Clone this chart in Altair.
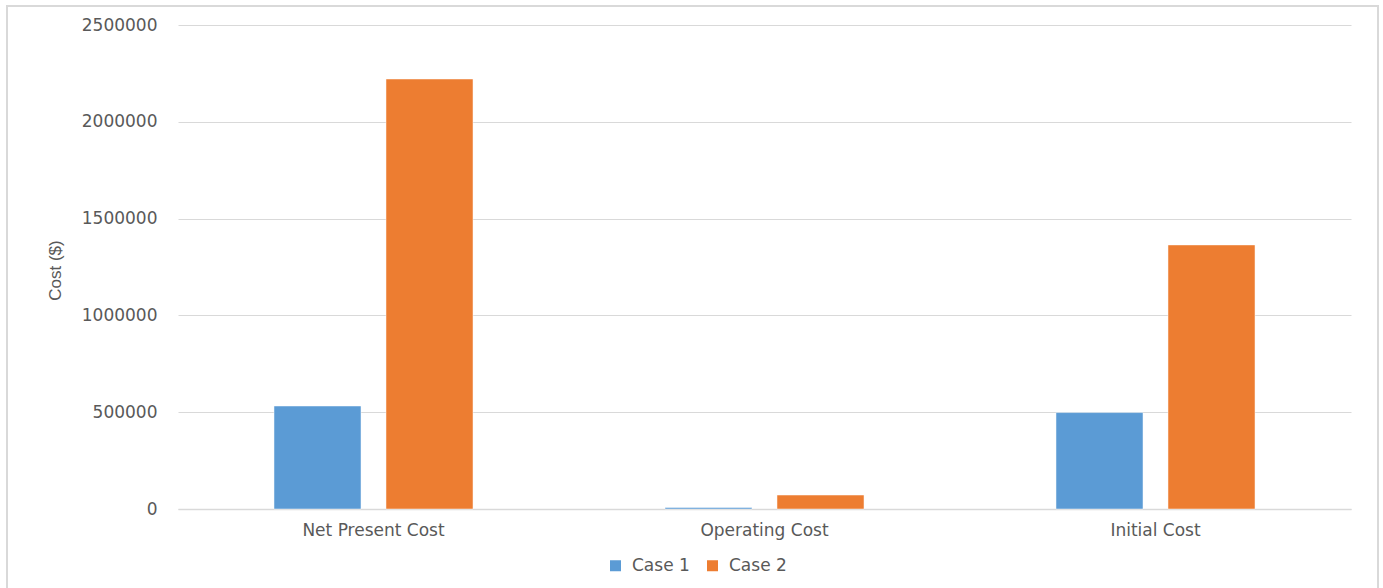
import altair as alt
import pandas as pd

categories = ["Net Present Cost", "Operating Cost", "Initial Cost"]
case1 = [532000, 8000, 498000]
case2 = [2221000, 72000, 1364000]
series = ["Case 1", "Case 2"]
y_ticks = [0, 500000, 1000000, 1500000, 2000000, 2500000]

rows = []
for c, a, b in zip(categories, case1, case2):
    rows.append({"category": c, "series": "Case 1", "cost": a})
    rows.append({"category": c, "series": "Case 2", "cost": b})
df = pd.DataFrame(rows)

FONT = "DejaVu Sans"
TXT = "#595959"

bars = alt.Chart(df).mark_bar(stroke="#ffffff", strokeWidth=0.8, strokeOpacity=0.6).encode(
    x=alt.X("category:N", sort=categories,
            scale=alt.Scale(paddingInner=0, paddingOuter=0),
            axis=alt.Axis(title=None, labelAngle=0, ticks=False, domain=True,
                          grid=False,
                          domainColor="#d9d9d9", domainWidth=1.5,
                          labelFont=FONT, labelFontSize=17, labelColor=TXT,
                          labelPadding=13)),
    xOffset=alt.XOffset("series:N", sort=series,
                        scale=alt.Scale(paddingInner=0.223, paddingOuter=0.857)),
    y=alt.Y("cost:Q",
            scale=alt.Scale(domain=[0, 2500000], nice=False),
            axis=alt.Axis(title="Cost ($)", values=y_ticks, format="d",
                          ticks=False, domain=False, grid=True,
                          gridColor="#d9d9d9", gridWidth=1,
                          labelFont=FONT, labelFontSize=17, labelColor=TXT,
                          labelPadding=21,
                          titleFont="Liberation Sans", titleFontSize=17,
                          titleFontWeight="normal", titleColor=TXT,
                          titleAngle=-90, titleBaseline="middle",
                          titleX=-123, titleY=245)),
    color=alt.Color("series:N", sort=series,
                    scale=alt.Scale(domain=series, range=["#5B9BD5", "#ED7D31"]),
                    legend=alt.Legend(title=None, orient="none", direction="horizontal",
                                      legendX=429, legendY=532,
                                      symbolType="square", symbolSize=121,
                                      symbolStrokeWidth=0,
                                      labelFont=FONT, labelFontSize=17, labelColor=TXT,
                                      labelOffset=8, columnPadding=14)),
)

frame = alt.Chart(df).mark_rect(fill="transparent", stroke="#d9d9d9", strokeWidth=1.5).encode(
    x=alt.value(-171), x2=alt.value(1200), y=alt.value(-19), y2=alt.value(600)
)

chart = alt.layer(frame, bars).properties(
    width=1173, height=484,
    autosize=alt.AutoSizeParams(type="none"),
    padding={"left": 178, "top": 25, "right": 32, "bottom": 79},
).configure(background="#ffffff").configure_view(stroke="transparent", strokeWidth=0)

chart.save("out.html", embed_options={"renderer": "svg", "actions": False})
